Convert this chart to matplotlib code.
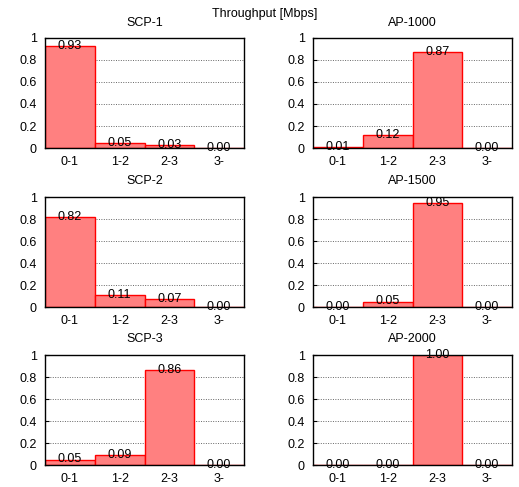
import matplotlib
matplotlib.use("Agg")
import matplotlib.pyplot as plt

categories = ["0-1", "1-2", "2-3", "3-"]
titles = ["SCP-1", "AP-1000", "SCP-2", "AP-1500", "SCP-3", "AP-2000"]
values = {
    "SCP-1": [0.93, 0.05, 0.03, 0.00],
    "AP-1000": [0.01, 0.12, 0.87, 0.00],
    "SCP-2": [0.82, 0.11, 0.07, 0.00],
    "AP-1500": [0.00, 0.05, 0.95, 0.00],
    "SCP-3": [0.05, 0.09, 0.86, 0.00],
    "AP-2000": [0.00, 0.00, 1.00, 0.00],
}
yticks = [0, 0.2, 0.4, 0.6, 0.8, 1]
ytick_labels = ["0", "0.2", "0.4", "0.6", "0.8", "1"]

plt.rcParams['font.family'] = ['Liberation Sans', 'DejaVu Sans']
W, H = 519, 487
fig = plt.figure(figsize=(W / 100, H / 100), dpi=100)

lefts = [45, 313]
tops = [38, 197, 355]
aw, ah = 199, 110
fs = 9

for i, name in enumerate(titles):
    r, c = divmod(i, 2)
    x0 = lefts[c] / W
    y0 = 1 - (tops[r] + ah) / H
    ax = fig.add_axes([x0, y0, aw / W, ah / H])
    vals = values[name]
    xs = list(range(len(categories)))
    ax.bar(xs, vals, width=1.0, color="#ff8080", edgecolor="#ff0000",
           linewidth=1.0, zorder=3)
    for x, v in zip(xs, vals):
        ax.text(x, v, f"{v:.2f}", ha="center", va="center", fontsize=fs,
                color="black", zorder=4)
    ax.set_xlim(-0.5, 3.5)
    ax.set_ylim(0, 1)
    ax.set_xticks(xs)
    ax.set_xticklabels(categories, fontsize=fs)
    ax.set_yticks(yticks)
    ax.set_yticklabels(ytick_labels, fontsize=fs)
    ax.tick_params(axis="x", length=0, pad=6)
    ax.tick_params(axis="y", length=3, direction="in", pad=6)
    ax.yaxis.grid(True, linestyle=(0, (1, 1.5)), color="#666666", linewidth=0.7, zorder=0)
    ax.set_axisbelow(True)
    for s in ax.spines.values():
        s.set_linewidth(1.0)
        s.set_color("black")
        s.set_zorder(5)
    ax.set_title(name, fontsize=fs, pad=9)

fig.text(265 / W, 1 - 14 / H, "Throughput [Mbps]", ha="center", va="center", fontsize=fs)

fig.savefig("out.png", dpi=100)
